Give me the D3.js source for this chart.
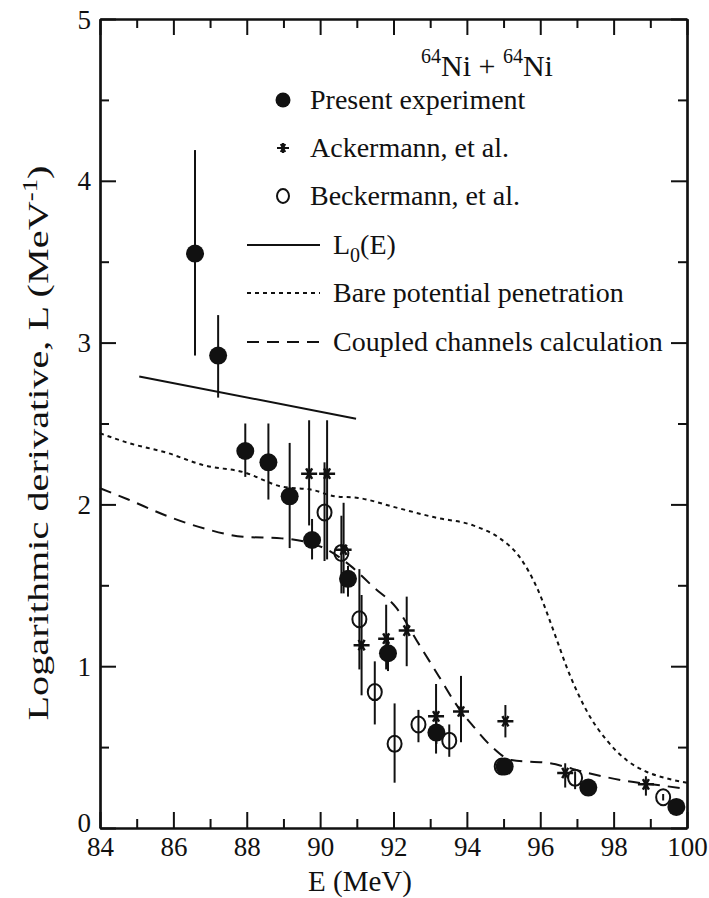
<!DOCTYPE html>
<html>
<head>
<meta charset="utf-8">
<script src="https://cdn.jsdelivr.net/npm/d3@7"></script>
<style>
  body { margin: 0; background: #fff; }
  svg { display: block; }
  text { font-family: "Liberation Serif", "Times New Roman", serif; fill: #111; }
</style>
</head>
<body>
<svg id="chart"></svg>
<script>
// [E, L, low, high]
const presentExp = [
  [86.59, 3.55, 2.92, 4.19],
  [87.22, 2.92, 2.66, 3.17],
  [87.96, 2.33, 2.17, 2.50],
  [88.59, 2.26, 2.03, 2.50],
  [89.17, 2.05, 1.73, 2.38],
  [89.78, 1.78, 1.66, 1.91],
  [90.76, 1.54, 1.43, 1.62],
  [91.85, 1.08, 0.97, 1.20],
  [93.17, 0.59, 0.52, 0.67],
  [95.03, 0.38, 0.35, 0.41],
  [97.31, 0.25, 0.24, 0.26],
  [99.71, 0.13, 0.12, 0.14]
];
const ackermann = [
  [89.70, 2.19, 1.87, 2.52],
  [90.19, 2.19, 1.66, 2.52],
  [90.64, 1.72, 1.45, 2.01],
  [91.13, 1.13, 0.82, 1.44],
  [91.80, 1.17, 0.98, 1.38],
  [92.36, 1.22, 1.00, 1.43],
  [93.16, 0.69, 0.46, 0.89],
  [93.84, 0.72, 0.53, 0.94],
  [95.05, 0.66, 0.56, 0.76],
  [96.68, 0.34, 0.25, 0.40],
  [98.88, 0.27, 0.20, 0.32]
];
const beckermann = [
  [90.12, 1.95, 1.65, 2.26],
  [90.58, 1.70, 1.45, 1.93],
  [91.07, 1.29, 0.98, 1.60],
  [91.49, 0.84, 0.64, 1.03],
  [92.03, 0.52, 0.28, 0.77],
  [92.68, 0.64, 0.53, 0.73],
  [93.52, 0.54, 0.44, 0.64],
  [94.95, 0.38, 0.36, 0.40],
  [96.95, 0.31, 0.24, 0.35],
  [99.35, 0.19, 0.17, 0.21]
];
const l0Line = [[85.07, 2.79], [90.98, 2.53]];
const bareCurve = [
  [84.0, 2.44], [84.77, 2.38], [85.81, 2.32], [86.86, 2.24], [87.90, 2.20],
  [88.95, 2.11], [89.78, 2.09], [90.41, 2.05], [91.04, 2.04], [92.08, 1.98],
  [93.12, 1.92], [94.17, 1.87], [94.90, 1.79], [95.42, 1.68], [95.94, 1.47],
  [96.36, 1.22], [96.78, 0.96], [97.30, 0.71], [97.82, 0.54], [98.35, 0.42],
  [98.87, 0.35], [99.39, 0.31], [100.0, 0.28]
];
const coupledCurve = [
  [84.0, 2.10], [84.77, 2.03], [85.81, 1.93], [86.86, 1.85], [87.90, 1.80],
  [88.95, 1.79], [89.57, 1.77], [90.20, 1.72], [90.83, 1.62], [91.45, 1.49],
  [92.08, 1.36], [92.71, 1.13], [93.23, 0.94], [93.75, 0.75], [94.17, 0.63],
  [94.69, 0.50], [95.21, 0.42], [96.26, 0.40], [97.30, 0.34], [98.35, 0.29],
  [99.39, 0.26], [100.0, 0.24]
];
const xMajor = [84, 86, 88, 90, 92, 94, 96, 98, 100];
const xMinor = [85, 87, 89, 91, 93, 95, 97, 99];
const yMajor = [0, 1, 2, 3, 4, 5];
const yMinor = [0.5, 1.5, 2.5, 3.5, 4.5];

const W = 709, H = 898;
const svg = d3.select("#chart").attr("width", W).attr("height", H);

const x = d3.scaleLinear().domain([84, 100]).range([100, 687]);
const y = d3.scaleLinear().domain([0, 5]).range([828, 19]);

const ink = "#111";

// axes: ticks point inward on all four sides
function addAxis(axisFn, scale, vals, size, transform, labels) {
  const a = axisFn(scale).tickValues(vals).tickSize(-size).tickSizeOuter(0)
    .tickFormat(labels ? d3.format("d") : "");
  const g = svg.append("g").attr("transform", transform).call(a);
  g.select(".domain").attr("stroke", ink).attr("stroke-width", 2.2);
  g.selectAll(".tick line").attr("stroke", ink).attr("stroke-width", 2);
  return g;
}
const gx = addAxis(d3.axisBottom, x, xMajor, 16, "translate(0,828)", true);
addAxis(d3.axisBottom, x, xMinor, 9, "translate(0,828)", false);
addAxis(d3.axisTop, x, xMajor, 16, "translate(0,19)", false);
addAxis(d3.axisTop, x, xMinor, 9, "translate(0,19)", false);
const gy = addAxis(d3.axisLeft, y, yMajor, 16, "translate(100,0)", true);
addAxis(d3.axisLeft, y, yMinor, 9, "translate(100,0)", false);
addAxis(d3.axisRight, y, yMajor, 16, "translate(687,0)", false);
addAxis(d3.axisRight, y, yMinor, 9, "translate(687,0)", false);

gx.selectAll(".tick text").attr("font-size", 27).attr("font-family", "Liberation Serif")
  .attr("fill", ink).attr("y", 9).attr("dy", "0.71em");
gy.selectAll(".tick text").attr("font-size", 27).attr("font-family", "Liberation Serif")
  .attr("fill", ink).attr("x", -9).attr("dy", d => d === 0 ? "0.12em" : "0.34em");

// axis titles
svg.append("text")
  .attr("x", 360).attr("y", 891)
  .attr("text-anchor", "middle").attr("font-size", 29)
  .text("E  (MeV)");

const yl = svg.append("text")
  .attr("transform", "translate(48,443) rotate(-90)")
  .attr("text-anchor", "middle").attr("font-size", 30)
  .attr("textLength", 555).attr("lengthAdjust", "spacingAndGlyphs");
yl.append("tspan").text("Logarithmic derivative, L  (MeV");
yl.append("tspan").attr("dy", -11).attr("font-size", 20).text("-1");
yl.append("tspan").attr("dy", 11).text(")");

// curves
const line = d3.line().x(d => x(d[0])).y(d => y(d[1]));
svg.append("path").datum(l0Line).attr("d", line)
  .attr("fill", "none").attr("stroke", ink).attr("stroke-width", 2);
svg.append("path").datum(bareCurve).attr("d", line.curve(d3.curveMonotoneX))
  .attr("fill", "none").attr("stroke", ink).attr("stroke-width", 2)
  .attr("stroke-dasharray", "4,4");
svg.append("path").datum(coupledCurve).attr("d", line.curve(d3.curveMonotoneX))
  .attr("fill", "none").attr("stroke", ink).attr("stroke-width", 2)
  .attr("stroke-dasharray", "12,8");

// error bars
function errBars(data) {
  svg.append("g").selectAll("line").data(data).enter().append("line")
    .attr("x1", d => x(d[0])).attr("x2", d => x(d[0]))
    .attr("y1", d => y(d[2])).attr("y2", d => y(d[3]))
    .attr("stroke", ink).attr("stroke-width", 2);
}
errBars(beckermann);
errBars(ackermann);
errBars(presentExp);

function starPath(r) {
  const p = [];
  p.push(`M${-r},0L${r},0`);
  [60, 120].forEach(a => {
    const dx = r * 0.75 * Math.cos(a * Math.PI / 180), dy = r * 0.75 * Math.sin(a * Math.PI / 180);
    p.push(`M${-dx},${-dy}L${dx},${dy}`);
  });
  return p.join("");
}

svg.append("g").selectAll("ellipse").data(beckermann).enter().append("ellipse")
  .attr("cx", d => x(d[0])).attr("cy", d => y(d[1]))
  .attr("rx", 7).attr("ry", 8)
  .attr("fill", "none").attr("stroke", ink).attr("stroke-width", 2);

svg.append("g").selectAll("path").data(ackermann).enter().append("path")
  .attr("transform", d => `translate(${x(d[0])},${y(d[1])})`)
  .attr("d", starPath(8))
  .attr("fill", "none").attr("stroke", ink).attr("stroke-width", 2.5);

svg.append("g").selectAll("circle").data(presentExp).enter().append("circle")
  .attr("cx", d => x(d[0])).attr("cy", d => y(d[1]))
  .attr("r", 9).attr("fill", ink);

// title
const tt = svg.append("text").attr("x", 421).attr("y", 76).attr("font-size", 30);
tt.append("tspan").attr("font-size", 20).attr("dy", -13).text("64");
tt.append("tspan").attr("dy", 13).text("Ni + ");
tt.append("tspan").attr("font-size", 20).attr("dy", -13).text("64");
tt.append("tspan").attr("dy", 13).text("Ni");

// legend
const lg = svg.append("g");
lg.append("circle").attr("cx", 283).attr("cy", 100).attr("r", 7.5).attr("fill", ink);
lg.append("path").attr("transform", "translate(283,148)").attr("d", starPath(6))
  .attr("fill", "none").attr("stroke", ink).attr("stroke-width", 2);
lg.append("line").attr("x1", 283).attr("x2", 283).attr("y1", 143).attr("y2", 153)
  .attr("stroke", ink).attr("stroke-width", 2);
lg.append("ellipse").attr("cx", 283).attr("cy", 196).attr("rx", 6).attr("ry", 7)
  .attr("fill", "none").attr("stroke", ink).attr("stroke-width", 2);

const lineItems = [
  { y: 245, dash: null },
  { y: 293, dash: "4,4" },
  { y: 342, dash: "12,8" }
];
lineItems.forEach(it => {
  const l = lg.append("line").attr("x1", 247).attr("x2", 320)
    .attr("y1", it.y).attr("y2", it.y)
    .attr("stroke", ink).attr("stroke-width", 2);
  if (it.dash) l.attr("stroke-dasharray", it.dash);
});

const fs = 28;
lg.append("text").attr("x", 310).attr("y", 109).attr("font-size", fs).text("Present experiment");
lg.append("text").attr("x", 310).attr("y", 157).attr("font-size", fs).text("Ackermann, et al.");
lg.append("text").attr("x", 310).attr("y", 205).attr("font-size", fs).text("Beckermann, et al.");
const l0t = lg.append("text").attr("x", 333).attr("y", 254).attr("font-size", fs);
l0t.append("tspan").text("L");
l0t.append("tspan").attr("dy", 8).attr("font-size", 20).text("0");
l0t.append("tspan").attr("dy", -8).text("(E)");
lg.append("text").attr("x", 333).attr("y", 302).attr("font-size", fs).text("Bare potential penetration");
lg.append("text").attr("x", 333).attr("y", 351).attr("font-size", fs).text("Coupled channels calculation");
</script>
</body>
</html>
